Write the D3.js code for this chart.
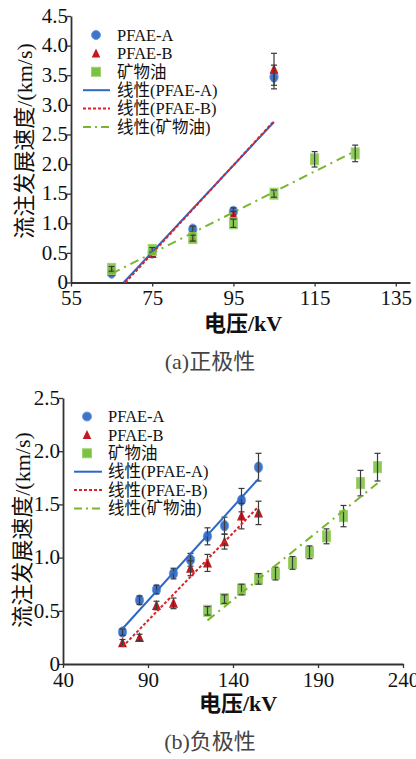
<!DOCTYPE html>
<html>
<head>
<meta charset="utf-8">
<script src="https://cdn.jsdelivr.net/npm/d3@7"></script>
<style>
  body { margin:0; background:#fff; }
  svg text { font-family: "Times New Roman", "Liberation Serif", "DejaVu Serif", "Noto Sans CJK SC", serif; fill:#111; }
</style>
</head>
<body>
<div id="container"></div>
<script>
// (a) 正极性
const voltA = [65, 75, 85, 95, 105];
const voltOilA = [65, 75, 85, 95, 105, 115, 125];
const posPfaeA = [0.16, 0.5, 0.9, 1.2, 3.47];
const posPfaeAErr = [0.03, 0.04, 0.05, 0.06, 0.2];
const posPfaeB = [0.2, 0.49, 0.75, 1.14, 3.6];
const posPfaeBErr = [0.03, 0.04, 0.05, 0.06, 0.27];
const posOil = [0.23, 0.55, 0.75, 1.0, 1.5, 2.08, 2.18];
const posOilErr = [0.04, 0.04, 0.05, 0.07, 0.06, 0.13, 0.14];

// (b) 负极性
const voltB = [75, 85, 95, 105, 115, 125, 135, 145, 155];
const voltOilB = [125, 135, 145, 155, 165, 175, 185, 195, 205, 215, 225];
const negPfaeA = [0.3, 0.6, 0.7, 0.85, 0.98, 1.2, 1.3, 1.54, 1.85];
const negPfaeAErr = [0.03, 0.04, 0.04, 0.05, 0.06, 0.08, 0.08, 0.11, 0.13];
const negPfaeB = [0.2, 0.25, 0.55, 0.57, 0.9, 0.95, 1.15, 1.39, 1.42];
const negPfaeBErr = [0.03, 0.03, 0.04, 0.05, 0.07, 0.08, 0.07, 0.12, 0.11];
const negOil = [0.5, 0.61, 0.7, 0.8, 0.85, 0.95, 1.05, 1.2, 1.39, 1.7, 1.85];
const negOilErr = [0.04, 0.04, 0.05, 0.05, 0.06, 0.06, 0.06, 0.07, 0.1, 0.12, 0.13];

const xTicksA = [55, 75, 95, 115, 135];
const yTicksA = [0, 0.5, 1.0, 1.5, 2.0, 2.5, 3.0, 3.5, 4.0, 4.5];
const xTicksB = [40, 90, 140, 190, 240];
const yTicksB = [0, 0.5, 1.0, 1.5, 2.0, 2.5];

const legendNames = ["PFAE-A", "PFAE-B", "矿物油", "线性(PFAE-A)", "线性(PFAE-B)", "线性(矿物油)"];
const yTitle = "流注发展速度/(km/s)";
const xTitle = "电压/kV";

const COL = { a: "#3f74c8", b: "#c21a1f", oil: "#7cc142", lineA: "#2f68c4", lineB: "#d8232a", lineOil: "#7ab530" };
const SERIF = "'Times New Roman', 'Liberation Serif', 'DejaVu Serif', 'Noto Sans CJK SC', serif";

const width = 416, height = 759;
const svg = d3.select("#container").append("svg")
    .attr("width", width).attr("height", height);
svg.append("rect").attr("width", width).attr("height", height).attr("fill", "#fff");

function fit(xs, ys) {
  const mx = d3.mean(xs), my = d3.mean(ys);
  const sxy = d3.sum(xs, (x, i) => (x - mx) * (ys[i] - my));
  const sxx = d3.sum(xs, x => (x - mx) * (x - mx));
  const m = sxy / sxx;
  return { m, b: my - m * mx };
}

function panel(cfg) {
  const x = d3.scaleLinear().domain(cfg.xDomain).range(cfg.xRange);
  const y = d3.scaleLinear().domain(cfg.yDomain).range(cfg.yRange);
  const g = svg.append("g").style("font-family", SERIF);
  const fmt = d => d === 0 ? "0" : d.toFixed(1);

  const ax = g.append("g").attr("transform", `translate(0,${cfg.yRange[0]})`)
    .call(d3.axisBottom(x).tickValues(cfg.xTicks).tickSize(4).tickSizeOuter(0).tickPadding(0));
  const ay = g.append("g").attr("transform", `translate(${cfg.xRange[0]},0)`)
    .call(d3.axisLeft(y).tickValues(cfg.yTicks).tickFormat(fmt).tickSize(4).tickSizeOuter(0).tickPadding(0));
  [ax, ay].forEach(a => {
    a.attr("font-family", null);
    a.select(".domain").attr("stroke", "#333").attr("stroke-width", 1.8);
    a.selectAll(".tick line").attr("stroke", "#333").attr("stroke-width", 1.3);
    a.selectAll(".tick text").attr("font-size", 21).attr("fill", "#111")
      .style("font-family", SERIF);
  });
  ax.selectAll(".tick text").attr("dy", "0.9em");
  ay.selectAll(".tick text").attr("dx", "0.05em").attr("dy", "0.3em");

  // trend lines
  const trend = (xs, ys, col, dash) => {
    const f = fit(xs, ys);
    let x0 = d3.min(xs);
    if (f.m * x0 + f.b < 0) x0 = -f.b / f.m;
    const x1 = d3.max(xs);
    g.append("line")
      .attr("x1", x(x0)).attr("y1", y(f.m * x0 + f.b))
      .attr("x2", x(x1)).attr("y2", y(f.m * x1 + f.b))
      .attr("stroke", col).attr("stroke-width", 2)
      .attr("stroke-dasharray", dash);
  };

  const errs = (xs, ys, es) => {
    const eg = g.append("g").attr("stroke", "#3a3a3a").attr("stroke-width", 1.2);
    xs.forEach((v, i) => {
      const cx = x(v), t = y(ys[i] + es[i]), bt = y(ys[i] - es[i]);
      eg.append("line").attr("x1", cx).attr("x2", cx).attr("y1", t).attr("y2", bt);
      eg.append("line").attr("x1", cx - 3).attr("x2", cx + 3).attr("y1", t).attr("y2", t);
      eg.append("line").attr("x1", cx - 3).attr("x2", cx + 3).attr("y1", bt).attr("y2", bt);
    });
  };

  const s = cfg.series;
  // PFAE-A circles
  g.append("g").selectAll("ellipse").data(s.a.y).join("ellipse")
    .attr("cx", (d, i) => x(s.a.x[i])).attr("cy", d => y(d))
    .attr("rx", 4.2).attr("ry", 5.3).attr("fill", COL.a).attr("stroke", "#6f9be0").attr("stroke-width", 0.8);
  errs(s.a.x, s.a.y, s.a.e);
  // PFAE-B triangles
  g.append("g").selectAll("path").data(s.b.y).join("path")
    .attr("d", (d, i) => { const cx = x(s.b.x[i]), cy = y(d); return `M${cx},${cy - 5.5}L${cx + 4.5},${cy + 4.5}L${cx - 4.5},${cy + 4.5}Z`; })
    .attr("fill", COL.b);
  errs(s.b.x, s.b.y, s.b.e);
  // oil squares
  g.append("g").selectAll("rect").data(s.oil.y).join("rect")
    .attr("x", (d, i) => x(s.oil.x[i]) - 4).attr("y", d => y(d) - 5.5)
    .attr("width", 8).attr("height", 11)
    .attr("fill", COL.oil).attr("fill-opacity", 0.88).attr("stroke", "#9fd46a").attr("stroke-width", 1);
  errs(s.oil.x, s.oil.y, s.oil.e);

  trend(s.a.x, s.a.y, COL.lineA, null);
  trend(s.b.x, s.b.y, COL.lineB, "3,2");
  trend(s.oil.x, s.oil.y, COL.lineOil, "9,5,2,5");

  // legend
  const L = cfg.legend;
  const lg = g.append("g").attr("font-size", 16.5);
  legendNames.forEach((name, i) => {
    const yy = L.y + i * 18.4;
    lg.append("text").attr("x", L.tx).attr("y", yy).attr("dy", "0.35em").text(name)
      .style("font-family", SERIF);
  });
  const mx = L.mx;
  lg.append("circle").attr("cx", mx).attr("cy", L.y).attr("r", 4.5).attr("fill", COL.a).attr("stroke", "#6f9be0");
  lg.append("path").attr("d", `M${mx},${L.y + 18.4 - 5}L${mx + 4.3},${L.y + 18.4 + 4}L${mx - 4.3},${L.y + 18.4 + 4}Z`).attr("fill", COL.b);
  lg.append("rect").attr("x", mx - 4.5).attr("y", L.y + 36.8 - 4.5).attr("width", 9).attr("height", 9)
    .attr("fill", COL.oil).attr("stroke", "#9fd46a");
  [[COL.lineA, null], [COL.lineB, "3,2"], [COL.lineOil, "8,4,2,4"]].forEach((c, k) => {
    const yy = L.y + (3 + k) * 18.4;
    lg.append("line").attr("x1", L.lx0).attr("x2", L.lx1).attr("y1", yy).attr("y2", yy)
      .attr("stroke", c[0]).attr("stroke-width", 2).attr("stroke-dasharray", c[1]);
  });

  // titles
  g.append("text").attr("transform", `translate(${cfg.yTitleX},${cfg.yTitleY}) rotate(-90)`)
    .attr("text-anchor", "middle").attr("dy", "0.35em").attr("font-size", 22).text(yTitle);
  g.append("text").attr("x", cfg.xTitleX).attr("y", cfg.xTitleY).attr("text-anchor", "middle")
    .attr("font-size", 22).attr("font-weight", "bold").text(xTitle);
  g.append("text").attr("x", 210).attr("y", cfg.capY).attr("text-anchor", "middle")
    .attr("font-size", 22).style("fill", "#444").text(cfg.caption);
}

panel({
  xDomain: [55, 138.5], xRange: [71, 410],
  yDomain: [0, 4.5], yRange: [282.5, 16],
  xTicks: xTicksA, yTicks: yTicksA,
  series: {
    a: { x: voltA, y: posPfaeA, e: posPfaeAErr },
    b: { x: voltA, y: posPfaeB, e: posPfaeBErr },
    oil: { x: voltOilA, y: posOil, e: posOilErr }
  },
  legend: { y: 35, mx: 96, tx: 117, lx0: 83, lx1: 110 },
  yTitleX: 24, yTitleY: 141, xTitleX: 243, xTitleY: 331, capY: 369, caption: "(a)正极性"
});

panel({
  xDomain: [40, 240], xRange: [63, 403],
  yDomain: [0, 2.5], yRange: [664, 398],
  xTicks: xTicksB, yTicks: yTicksB,
  series: {
    a: { x: voltB, y: negPfaeA, e: negPfaeAErr },
    b: { x: voltB, y: negPfaeB, e: negPfaeBErr },
    oil: { x: voltOilB, y: negOil, e: negOilErr }
  },
  legend: { y: 416.5, mx: 87, tx: 108, lx0: 74, lx1: 102 },
  yTitleX: 22, yTitleY: 530, xTitleX: 238, xTitleY: 711, capY: 749, caption: "(b)负极性"
});
</script>
</body>
</html>
